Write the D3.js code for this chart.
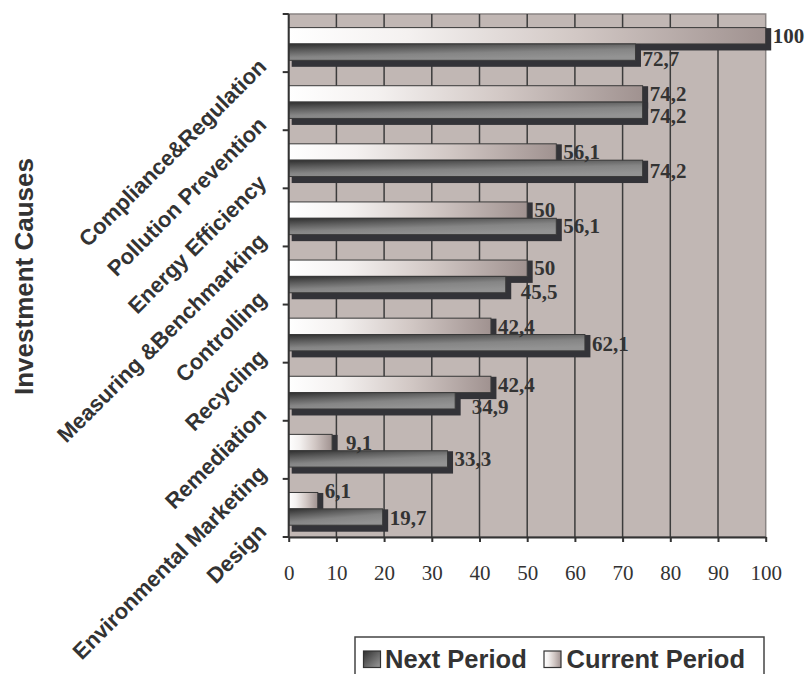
<!DOCTYPE html>
<html>
<head>
<meta charset="utf-8">
<script src="https://cdn.jsdelivr.net/npm/d3@7"></script>
<style>
  html, body { margin: 0; padding: 0; background: #ffffff; }
  svg { display: block; }
  .sans { font-family: Arial, "Liberation Sans", sans-serif; font-stretch: normal; font-weight: bold; }
  .serif { font-family: "Times New Roman", "Liberation Serif", serif; font-stretch: normal; }
</style>
</head>
<body>
<svg id="chart" width="806" height="674"></svg>
<script>
// Investment causes, share of respondents (%)
const categories = [
  "Compliance&Regulation",
  "Pollution Prevention",
  "Energy Efficiency",
  "Measuring &Benchmarking",
  "Controlling",
  "Recycling",
  "Remediation",
  "Environmental Marketing",
  "Design"
];
const currentPeriod = [100, 74.2, 56.1, 50, 50, 42.4, 42.4, 9.1, 6.1];
const nextPeriod    = [72.7, 74.2, 74.2, 56.1, 45.5, 62.1, 34.9, 33.3, 19.7];
const xTicks = [0, 10, 20, 30, 40, 50, 60, 70, 80, 90, 100];
const seriesNames = ["Next Period", "Current Period"];
const axisTitle = "Investment Causes";

// Small per-label nudges [dx, dy] in pixels so neighbouring labels don't collide
const currentLabelShift = [[0,0],[0,0],[0,0],[0,0],[0,0],[0,1],[0,1],[7,0],[0,-10]];
const nextLabelShift    = [[0,7],[0,5.5],[0,3],[0,0],[8,7.5],[0,1],[9.5,6],[0,0],[0,1]];

const svg = d3.select("#chart");
const plot = { left: 288.7, top: 14, width: 477, height: 523 };
const ink = "#333333";

const x = d3.scaleLinear().domain([0, 100]).range([plot.left, plot.left + plot.width]);
const y = d3.scaleBand().domain(categories).range([plot.top, plot.top + plot.height]).padding(0);
const inner = d3.scaleBand().domain(["current", "next"])
  .range([13.6, y.bandwidth() - 11.8]).padding(0);

const fmt = v => String(v).replace(".", ",");

// gradients
const defs = svg.append("defs");
const gCur = defs.append("linearGradient").attr("id", "gradCurrent")
  .attr("x1", 0).attr("y1", 0).attr("x2", 1).attr("y2", 0);
gCur.append("stop").attr("offset", "0%").attr("stop-color", "#ffffff");
gCur.append("stop").attr("offset", "25%").attr("stop-color", "#f4f1f0");
gCur.append("stop").attr("offset", "60%").attr("stop-color", "#d2c8c5");
gCur.append("stop").attr("offset", "100%").attr("stop-color", "#a09290");

const gNext = defs.append("linearGradient").attr("id", "gradNext")
  .attr("x1", 0).attr("y1", 0).attr("x2", 0.5).attr("y2", 1);
gNext.append("stop").attr("offset", "0%").attr("stop-color", "#2f2f2f");
gNext.append("stop").attr("offset", "35%").attr("stop-color", "#5f5f5f");
gNext.append("stop").attr("offset", "65%").attr("stop-color", "#858585");
gNext.append("stop").attr("offset", "100%").attr("stop-color", "#939393");

const gNextLeg = defs.append("linearGradient").attr("id", "gradNextLegend")
  .attr("x1", 0).attr("y1", 0).attr("x2", 1).attr("y2", 1);
gNextLeg.append("stop").attr("offset", "0%").attr("stop-color", "#2f2f2f");
gNextLeg.append("stop").attr("offset", "100%").attr("stop-color", "#9a9a9a");

// plot background
svg.append("rect")
  .attr("x", plot.left).attr("y", plot.top)
  .attr("width", plot.width).attr("height", plot.height)
  .attr("fill", "#c1b7b4")
  .attr("stroke", "#8a8584").attr("stroke-width", 1.5);

// vertical gridlines
svg.append("g").selectAll("line")
  .data(xTicks.filter(t => t > 0 && t < 100))
  .join("line")
  .attr("x1", d => x(d)).attr("x2", d => x(d))
  .attr("y1", plot.top).attr("y2", plot.top + plot.height)
  .attr("stroke", "#3c3c3c").attr("stroke-width", 1.5);

// bars with a dark drop shadow behind each one
const rows = categories.map((c, i) => ({
  cat: c, i,
  bars: [
    { key: "current", value: currentPeriod[i], fill: "url(#gradCurrent)", shift: currentLabelShift[i] },
    { key: "next", value: nextPeriod[i], fill: "url(#gradNext)", shift: nextLabelShift[i] }
  ]
}));

const barData = rows.flatMap(r => r.bars.map(b => {
  const y0 = y(r.cat) + inner(b.key);
  return { ...b, x0: x(0), x1: x(b.value), y0, y1: y0 + inner.bandwidth() };
}));

const barG = svg.append("g");
barData.forEach(b => {
  const g = barG.append("g");
  g.append("rect")
    .attr("x", b.x0 + 3).attr("y", b.y0 + 0.5)
    .attr("width", b.x1 - b.x0 + 2.5).attr("height", b.y1 - b.y0 + 6)
    .attr("fill", "#333338");
  g.append("rect")
    .attr("x", b.x0).attr("y", b.y0)
    .attr("width", b.x1 - b.x0).attr("height", b.y1 - b.y0)
    .attr("fill", b.fill)
    .attr("stroke", "#3a3a3a").attr("stroke-width", 1);
});

// value labels
svg.append("g").selectAll("text")
  .data(barData)
  .join("text")
  .attr("class", "serif")
  .attr("x", d => d.x1 + 7 + d.shift[0])
  .attr("y", d => (d.y0 + d.y1) / 2 + 7 + d.shift[1])
  .attr("font-weight", "bold")
  .attr("font-size", 21)
  .attr("fill", ink)
  .text(d => fmt(d.value));

// y axis (category boundaries)
const yEdges = categories.map(c => y(c)).concat([plot.top + plot.height]);
svg.append("line")
  .attr("x1", plot.left).attr("x2", plot.left)
  .attr("y1", plot.top).attr("y2", plot.top + plot.height)
  .attr("stroke", ink).attr("stroke-width", 2);
svg.append("g").selectAll("line")
  .data(yEdges)
  .join("line")
  .attr("x1", plot.left - 6).attr("x2", plot.left)
  .attr("y1", d => d).attr("y2", d => d)
  .attr("stroke", ink).attr("stroke-width", 2);

// x axis
const xAxis = d3.axisBottom(x).tickValues(xTicks).tickSize(5).tickPadding(23).tickSizeOuter(0);
const xg = svg.append("g")
  .attr("transform", `translate(0,${plot.top + plot.height})`)
  .call(xAxis);
xg.attr("font-family", null).attr("font-size", null);
xg.select(".domain").attr("stroke", ink).attr("stroke-width", 2);
xg.selectAll(".tick line").attr("stroke", ink).attr("stroke-width", 2);
xg.selectAll(".tick text")
  .attr("class", "serif")
  .attr("font-size", 21)
  .attr("fill", ink);

// category labels, rotated
svg.append("g").selectAll("text")
  .data(categories)
  .join("text")
  .attr("class", "sans")
  .attr("transform", d => `translate(${plot.left - 21},${y(d) + y.bandwidth() - 4}) rotate(-45)`)
  .attr("text-anchor", "end")
  .attr("font-size", 22)
  .attr("fill", ink)
  .text(d => d);

// axis title
svg.append("text")
  .attr("class", "sans")
  .attr("transform", `translate(33,${plot.top + plot.height / 2 + 1}) rotate(-90)`)
  .attr("text-anchor", "middle")
  .attr("font-size", 26)
  .attr("fill", ink)
  .text(axisTitle);

// legend
const legend = svg.append("g").attr("transform", "translate(355,637)");
legend.append("rect")
  .attr("x", 0).attr("y", 0).attr("width", 409).attr("height", 60)
  .attr("fill", "#ffffff").attr("stroke", "#444444").attr("stroke-width", 1.5);
const legendItems = [
  { name: seriesNames[0], fill: "url(#gradNextLegend)", sx: 8.5, tx: 30 },
  { name: seriesNames[1], fill: "url(#gradCurrent)", sx: 189, tx: 211.5 }
];
legendItems.forEach(it => {
  legend.append("rect")
    .attr("x", it.sx).attr("y", 14).attr("width", 17).attr("height", 16.5)
    .attr("fill", it.fill).attr("stroke", "#333333").attr("stroke-width", 1.2);
  legend.append("text")
    .attr("class", "sans")
    .attr("x", it.tx).attr("y", 30.5)
    .attr("font-size", 25.5)
    .attr("fill", ink)
    .text(it.name);
});
</script>
</body>
</html>
